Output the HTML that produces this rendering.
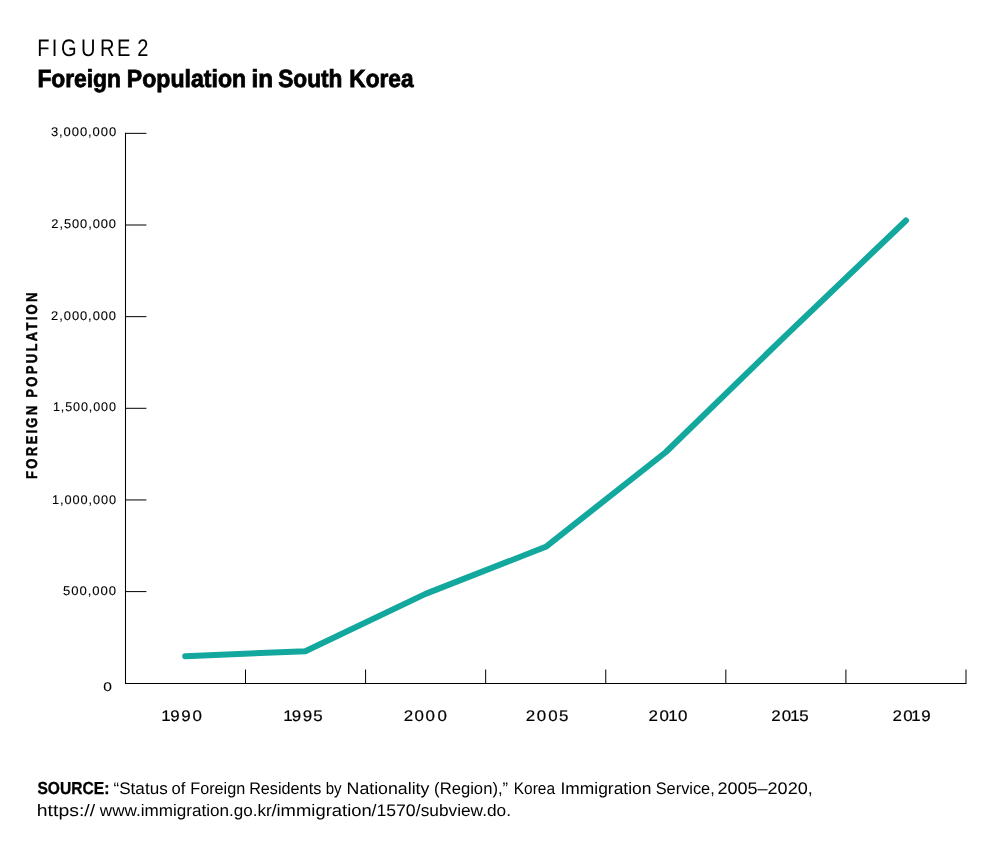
<!DOCTYPE html>
<html lang="en">
<head>
<meta charset="utf-8">
<title>Figure 2 – Foreign Population in South Korea</title>
<style>
html,body{margin:0;padding:0;background:#fff;}
body{width:1000px;height:853px;overflow:hidden;font-family:"Liberation Sans",sans-serif;color:#000;}
svg{display:block;}
text{font-family:"Liberation Sans",sans-serif;fill:#000;text-rendering:geometricPrecision;}
.fig{font-size:23.9px;}
.ttl{font-size:24.8px;font-weight:bold;stroke:#000;stroke-width:.8px;}
.yl{font-size:12.6px;letter-spacing:.9px;stroke:#000;stroke-width:.1px;}
.xl{font-size:15.4px;stroke:#000;stroke-width:.2px;}
.ax{font-size:15.6px;font-weight:bold;letter-spacing:2.68px;text-anchor:middle;stroke:#000;stroke-width:.5px;}
.src{font-size:16.7px;}
.b{font-weight:bold;font-size:17.4px;stroke:#000;stroke-width:.3px;}
</style>
</head>
<body>
<svg width="1000" height="853" viewBox="0 0 1000 853">
<rect width="1000" height="853" fill="#fff"/>
<g stroke="#000" stroke-width="1" fill="none">
<path d="M125.5 132.85V683.45H966.5" stroke-width="1.05"/>
<path d="M125.5 133.35H146.4M125.5 225H146.4M125.5 316.65H146.4M125.5 408.3H146.4M125.5 499.95H146.4M125.5 591.6H146.4"/>
<path d="M245.5 683.4V669.55M365.58 683.4V669.55M485.67 683.4V669.55M605.75 683.4V669.55M725.83 683.4V669.55M845.91 683.4V669.55M966 683.4V669.55"/>
</g>
<text class="ax" transform="translate(36.8 384.6) rotate(-90) scale(0.84 1)">FOREIGN POPULATION</text>
<polyline points="185.2,656.2 305.3,651.25 425.5,593.9 545.8,546.8 665.7,452.25 785.9,335.3 906,220.5" fill="none" stroke="#13a89e" stroke-width="6" stroke-linecap="round" stroke-linejoin="round"/>

<text class="fig" transform="translate(0 56) scale(0.84 1)" x="44.48 61.76 72.65 96.37 119.2 139.32 151.34 163.37" y="0">FIGURE 2</text>
<text class="ttl" y="87"><tspan class="ttl" x="37.38" textLength="83.6" lengthAdjust="spacingAndGlyphs">Foreign</tspan> <tspan class="ttl" x="126.83" textLength="119.27" lengthAdjust="spacingAndGlyphs">Population</tspan> <tspan class="ttl" x="251.57" textLength="21.5" lengthAdjust="spacingAndGlyphs">in</tspan> <tspan class="ttl" x="278.2" textLength="64.3" lengthAdjust="spacingAndGlyphs">South</tspan> <tspan class="ttl" x="349.36" textLength="64.21" lengthAdjust="spacingAndGlyphs">Korea</tspan></text>
<text class="yl" y="136" x="50.93" textLength="66.17" lengthAdjust="spacingAndGlyphs">3,000,000</text>
<text class="yl" y="228" x="51.32" textLength="65.61" lengthAdjust="spacingAndGlyphs">2,500,000</text>
<text class="yl" y="320" x="51.14" textLength="65.88" lengthAdjust="spacingAndGlyphs">2,000,000</text>
<text class="yl" y="411" x="52.9" textLength="64.02" lengthAdjust="spacingAndGlyphs">1,500,000</text>
<text class="yl" y="504" x="52.05" textLength="64.88" lengthAdjust="spacingAndGlyphs">1,000,000</text>
<text class="yl" y="595" x="62.97" textLength="53.93" lengthAdjust="spacingAndGlyphs">500,000</text>
<text class="yl" y="691" x="103.17" textLength="9.74" lengthAdjust="spacingAndGlyphs">0</text>
<text class="xl" transform="translate(0 721) scale(1.1 1)" x="146.51 154.87 164.75 175.08" y="0">1990</text>
<text class="xl" transform="translate(0 721) scale(1.1 1)" x="257.49 265.31 275.2 284.81" y="0">1995</text>
<text class="xl" transform="translate(0 721) scale(1.1 1)" x="367.1 376.77 386.9 397.71" y="0">2000</text>
<text class="xl" transform="translate(0 721) scale(1.1 1)" x="477.98 487.91 498.4 508.13" y="0">2005</text>
<text class="xl" transform="translate(0 721) scale(1.1 1)" x="589.62 599.48 607.41 616.38" y="0">2010</text>
<text class="xl" transform="translate(0 721) scale(1.1 1)" x="701.04 710.68 718.34 726.53" y="0">2015</text>
<text class="xl" transform="translate(0 721) scale(1.1 1)" x="811.25 821.06 828.52 837.5" y="0">2019</text>
<text class="src" y="794"><tspan class="src b" x="37.43" textLength="71.91" lengthAdjust="spacingAndGlyphs">SOURCE:</tspan> <tspan class="src" x="113.53" textLength="54.19" lengthAdjust="spacingAndGlyphs">“Status</tspan> <tspan class="src" x="171.62" textLength="13.81" lengthAdjust="spacingAndGlyphs">of</tspan> <tspan class="src" x="190.24" textLength="55.01" lengthAdjust="spacingAndGlyphs">Foreign</tspan> <tspan class="src" x="249.14" textLength="72.14" lengthAdjust="spacingAndGlyphs">Residents</tspan> <tspan class="src" x="325.71" textLength="15.95" lengthAdjust="spacingAndGlyphs">by</tspan> <tspan class="src" x="346.59" textLength="82.81" lengthAdjust="spacingAndGlyphs">Nationality</tspan> <tspan class="src" x="434.11" textLength="73.99" lengthAdjust="spacingAndGlyphs">(Region),”</tspan> <tspan class="src" x="513.75" textLength="41.26" lengthAdjust="spacingAndGlyphs">Korea</tspan> <tspan class="src" x="560.5" textLength="90.86" lengthAdjust="spacingAndGlyphs">Immigration</tspan> <tspan class="src" x="655.69" textLength="59.05" lengthAdjust="spacingAndGlyphs">Service,</tspan> <tspan class="src" x="717.45" textLength="95.28" lengthAdjust="spacingAndGlyphs">2005–2020,</tspan></text>
<text class="src" y="816"><tspan class="src" x="36.82" textLength="58.31" lengthAdjust="spacingAndGlyphs">https://</tspan> <tspan class="src" x="99.81" textLength="171.91" lengthAdjust="spacingAndGlyphs">www.immigration.go.kr</tspan><tspan class="src" x="271.41" textLength="100.33" lengthAdjust="spacingAndGlyphs">/immigration</tspan><tspan class="src" x="371.5" textLength="44.19" lengthAdjust="spacingAndGlyphs">/1570</tspan><tspan class="src" x="415.89" textLength="95.09" lengthAdjust="spacingAndGlyphs">/subview.do.</tspan></text>
</svg>
</body>
</html>
